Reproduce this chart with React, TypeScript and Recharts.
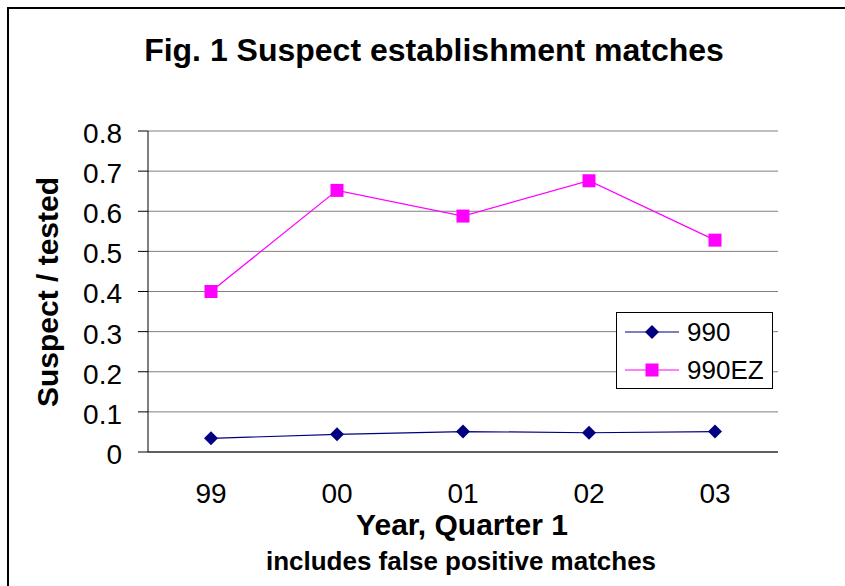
import { ComposedChart, Line, XAxis, YAxis, CartesianGrid } from "recharts";

// values
const years = ["99", "00", "01", "02", "03"];
const form990 = [0.034, 0.044, 0.051, 0.048, 0.051];
const form990EZ = [0.4, 0.652, 0.588, 0.676, 0.528];
const yTicks = [0, 0.1, 0.2, 0.3, 0.4, 0.5, 0.6, 0.7, 0.8];
const edgeTicks = [0, 1, 2, 3, 4, 5];

const NAVY = "#000080";
const MAGENTA = "#FF00FF";
const FONT = '"Liberation Sans", Arial, sans-serif';

const data = years.map((year, i) => ({
  year,
  v990: form990[i],
  v990EZ: form990EZ[i],
}));

const Diamond = (props: any) => {
  const { cx, cy, index } = props;
  if (cx == null || cy == null) return null;
  const r = 7;
  return (
    <polygon
      key={`d-${index}`}
      points={`${cx},${cy - r} ${cx + r},${cy} ${cx},${cy + r} ${cx - r},${cy}`}
      fill={NAVY}
    />
  );
};

const Square = (props: any) => {
  const { cx, cy, index } = props;
  if (cx == null || cy == null) return null;
  return <rect key={`s-${index}`} x={cx - 6.5} y={cy - 6.5} width={13} height={13} fill={MAGENTA} />;
};

const centered = (x: number, y: number, size: number, extra: any = {}) => ({
  position: "absolute" as const,
  left: x,
  top: y,
  transform: "translate(-50%, -50%)",
  fontSize: size,
  fontWeight: "bold" as const,
  lineHeight: 1,
  whiteSpace: "nowrap" as const,
  ...extra,
});

function LegendBox() {
  const row = (label: string, color: string, marker: "d" | "s") => (
    <div style={{ display: "flex", alignItems: "center", height: 38 }}>
      <svg width={64} height={20} style={{ display: "block" }}>
        <line x1={8} y1={10} x2={62} y2={10} stroke={color} strokeWidth={1.2} />
        {marker === "d" ? (
          <polygon points="35,3 42,10 35,17 28,10" fill={color} />
        ) : (
          <rect x={28.5} y={3.5} width={13} height={13} fill={color} />
        )}
      </svg>
      <span style={{ fontSize: 26, marginLeft: 6, lineHeight: 1 }}>{label}</span>
    </div>
  );
  return (
    <div
      style={{
        position: "absolute",
        left: 616,
        top: 312,
        width: 155,
        height: 75,
        border: "1px solid #000",
        background: "#fff",
        boxSizing: "content-box",
      }}
    >
      {row("990", NAVY, "d")}
      {row("990EZ", MAGENTA, "s")}
    </div>
  );
}

export default function App() {
  return (
    <div
      style={{
        position: "absolute",
        left: 0,
        top: 0,
        width: 845,
        height: 586,
        background: "#fff",
        overflow: "hidden",
        fontFamily: FONT,
        color: "#000",
      }}
    >
      {/* outer frame, open on the right and bottom */}
      <div
        style={{
          position: "absolute",
          left: 7,
          top: 7,
          width: 900,
          height: 700,
          borderTop: "2px solid #000",
          borderLeft: "2px solid #000",
        }}
      />

      <ComposedChart
        width={845}
        height={586}
        data={data}
        margin={{ top: 131, right: 67, bottom: 74, left: 88 }}
        style={{ position: "absolute", left: 0, top: 0 }}
      >
        <CartesianGrid vertical={false} stroke="#808080" />
        <XAxis
          xAxisId="edge"
          type="number"
          domain={[0, years.length]}
          ticks={edgeTicks}
          tick={false}
          axisLine={false}
          tickSize={9}
          tickLine={{ stroke: "#000" }}
          height={0}
        />
        <XAxis
          dataKey="year"
          type="category"
          scale="band"
          tickLine={false}
          tickSize={0}
          tickMargin={31}
          axisLine={{ stroke: "#000" }}
          tick={{ fontSize: 28, fill: "#000", fontFamily: FONT }}
          height={60}
          interval={0}
        />
        <YAxis
          domain={[0, 0.8]}
          ticks={yTicks}
          interval={0}
          width={60}
          tickSize={10}
          tickMargin={16}
          axisLine={{ stroke: "#000" }}
          tickLine={{ stroke: "#000" }}
          tick={{ fontSize: 28, fill: "#000", fontFamily: FONT, dy: 2 }}
        />
        <YAxis
          yAxisId="r"
          orientation="right"
          domain={[0, 0.8]}
          width={0}
          tick={false}
          tickLine={false}
          axisLine={{ stroke: "#808080" }}
        />
        <Line
          dataKey="v990"
          stroke={NAVY}
          strokeWidth={1.2}
          dot={Diamond}
          activeDot={false}
          isAnimationActive={false}
        />
        <Line
          dataKey="v990EZ"
          stroke={MAGENTA}
          strokeWidth={1.2}
          dot={Square}
          activeDot={false}
          isAnimationActive={false}
        />
      </ComposedChart>

      <div style={centered(434, 50, 32)}>Fig. 1 Suspect establishment matches</div>
      <div style={centered(48, 292, 30, { transform: "translate(-50%, -50%) rotate(-90deg)" })}>
        Suspect / tested
      </div>
      <div style={centered(462, 525, 30)}>Year, Quarter 1</div>
      <div style={centered(461, 561, 26)}>includes false positive matches</div>

      <LegendBox />
    </div>
  );
}
